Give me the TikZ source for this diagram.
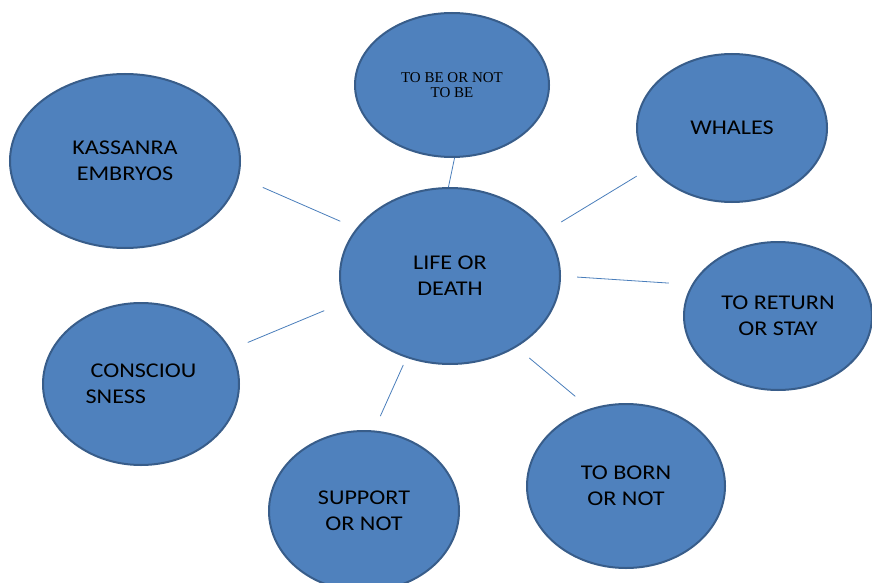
\documentclass[tikz,border=0pt]{standalone}
\usepackage{fontspec}
\newfontfamily\bubblefont[FakeStretch=1.15]{Carlito}
\newfontfamily\serifbubble{Liberation Serif}
\usepackage{xcolor}
\usetikzlibrary{shapes.geometric,positioning,calc}
\definecolor{bubblefill}{HTML}{4F81BD}
\definecolor{bubbleedge}{HTML}{385D8A}
\definecolor{linkblue}{HTML}{4A7EBB}

\begin{document}
\begin{tikzpicture}[x=1pt, y=-1pt,
        bubble/.style={ellipse, draw=bubbleedge, line width=2pt, fill=bubblefill, inner sep=0pt, align=center, font=\bubblefont\fontsize{21}{26}\selectfont},
        link/.style={draw=linkblue, line width=0.8pt}]
            \useasboundingbox (0,0) rectangle (872,583);
            % centre
            \node[bubble, minimum width=220pt, minimum height=176pt] (life) at (450,276) {LIFE OR\\DEATH};

            % top row
            \node[bubble, minimum width=194pt, minimum height=144pt, font=\serifbubble\fontsize{15}{15}\selectfont] (tobe) at (452,85) {TO BE OR NOT\\TO BE};
            \node[bubble, minimum width=230pt, minimum height=174pt] (kass) at (125,161) {KASSANRA\\EMBRYOS};
            \node[bubble, minimum width=190pt, minimum height=148pt] (whales) at (732,128) {WHALES};

            % sides
            \node[bubble, minimum width=188pt, minimum height=148pt] (return) at (778,316) {TO RETURN\\OR STAY};
            \node[bubble, minimum width=196pt, minimum height=162pt, align=left] (conscious) at (141,384) {\hspace{5pt}CONSCIOU\\SNESS};

            % bottom row
            \node[bubble, minimum width=190pt, minimum height=160pt] (support) at (364,511) {SUPPORT\\OR NOT};
            \node[bubble, minimum width=198pt, minimum height=164pt] (born) at (626,486) {TO BORN\\OR NOT};

            % spokes
            \draw[link] (tobe.-88) -- (life.91);
            \draw[link, shorten <=17.5pt, shorten >=26pt] (life.153) -- (kass.-8);
            \draw[link, shorten <=17.9pt, shorten >=16.3pt] (life.25) -- (whales.-154);
            \draw[link, shorten <=16.2pt, shorten >=23pt] (life.0) -- (return.160);
            \draw[link, shorten <=21.4pt, shorten >=18.4pt] (life.194) -- (conscious.21);
            \draw[link, shorten <=7.8pt, shorten >=15.7pt] (life.-118) -- (support.83);
            \draw[link, shorten <=16.7pt, shorten >=19.1pt] (life.-47) -- (born.115);
        \end{tikzpicture}
\end{document}
